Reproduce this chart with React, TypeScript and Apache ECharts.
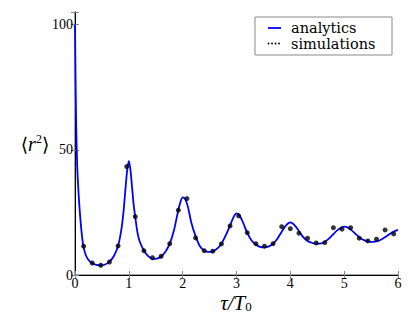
import React, { useEffect, useRef } from "react";
import * as echarts from "echarts";

// analytic curve: tau/T0 and <r^2>
const analyticTau = [
  0, 0.02, 0.04, 0.06, 0.08, 0.105, 0.13, 0.155, 0.2, 0.25, 0.32, 0.4, 0.48, 0.56, 0.64, 0.72, 0.8,
  0.86, 0.9, 0.94, 0.97, 1.0, 1.03, 1.06, 1.09, 1.12, 1.16, 1.2, 1.28, 1.36, 1.44, 1.52, 1.6, 1.68,
  1.76, 1.84, 1.9, 1.95, 2.0, 2.05, 2.1, 2.16, 2.24, 2.32, 2.4, 2.48, 2.56, 2.64, 2.72, 2.8, 2.88,
  2.95, 3.0, 3.05, 3.12, 3.2, 3.28, 3.36, 3.44, 3.52, 3.6, 3.68, 3.76, 3.84, 3.92, 4.0, 4.06, 4.14,
  4.22, 4.3, 4.38, 4.46, 4.54, 4.62, 4.7, 4.78, 4.86, 4.94, 5.0, 5.06, 5.14, 5.22, 5.3, 5.38, 5.46,
  5.54, 5.62, 5.7, 5.78, 5.86, 5.94, 6.0,
];
const analyticR2 = [
  100, 62, 44, 35, 28, 21, 15.5, 11.5, 8, 6, 4.7, 4, 3.8, 4.2, 5.3, 7.5, 11.6,
  18, 25, 35, 42, 45.5, 42, 35, 28, 23, 17, 13.5, 9.8, 7.5, 6.4, 6.5, 7.4, 9.3,
  12.5, 18, 24, 28.5, 31, 30.2, 27, 21, 15.5, 11.5, 9.8, 9.2, 9.4, 10.5, 12.5, 15.8, 19.8,
  23.3, 24.6, 24, 21, 16.8, 13.8, 12.2, 11.2, 11.0, 11.4, 12.5, 14.5, 17.3, 19.8, 21, 20.3, 18.2,
  15.6, 13.9, 13, 12.5, 12.5, 13, 14.2, 15.9, 17.6, 18.9, 19.3, 19, 17.8, 16.2, 14.8, 13.8, 13.3,
  13.2, 13.5, 14.3, 15.4, 16.6, 17.5, 18,
];

// simulation points
const simTau = [
  0.16, 0.32, 0.48, 0.64, 0.8, 0.96, 1.12, 1.28, 1.44, 1.6, 1.76, 1.92, 2.08, 2.24, 2.4, 2.56,
  2.72, 2.88, 3.04, 3.2, 3.36, 3.52, 3.68, 3.84, 4.0, 4.16, 4.32, 4.48, 4.64, 4.8, 4.96, 5.12,
  5.28, 5.44, 5.6, 5.76, 5.92,
];
const simR2 = [
  11.5, 4.8, 3.9, 5.2, 11.6, 43.3, 23.3, 9.7, 6.9, 7.5, 12.5, 25.9, 30.5, 14.8, 9.7, 9.5,
  12.4, 19.6, 23.6, 16.9, 12.5, 11.5, 12.5, 19.3, 18.5, 16.7, 14.7, 12.8, 12.9, 18.9, 18.3, 18.9,
  14.7, 13.6, 14.3, 18, 16.4,
];

const xTicks = [0, 1, 2, 3, 4, 5, 6];
const yTicks = [0, 50, 100];

const SERIF = "Liberation Serif";

export default function App() {
  const ref = useRef<HTMLDivElement>(null);
  useEffect(() => {
    if (!ref.current) return;
    const chart = echarts.init(ref.current, null, { renderer: "svg" });
    const line = analyticTau.map((t, i) => [t, analyticR2[i]]);
    const sim = simTau.map((t, i) => [t, simR2[i]]);
    const tickLabel = { fontFamily: SERIF, fontSize: 14, color: "#000" };
    const legendText = {
      fontFamily: "DejaVu Serif",
      fontSize: 14.5,
      lineHeight: 14,
      fill: "#000",
      verticalAlign: "middle",
    };
    chart.setOption({
      animation: false,
      backgroundColor: "#fff",
      grid: { left: 75, right: 17, top: 12, bottom: 38, containLabel: false },
      xAxis: [
        {
          type: "value",
          min: 0,
          max: 6,
          interval: 1,
          position: "bottom",
          axisLine: { show: true, lineStyle: { color: "#888", width: 1.5 } },
          axisTick: { show: true, inside: true, length: 4, lineStyle: { color: "#888" } },
          axisLabel: {
            ...tickLabel,
            margin: 2,
            lineHeight: 12,
            formatter: (v: number) => (xTicks.includes(v) ? String(v) : ""),
          },
          splitLine: { show: false },
        },
        {
          type: "value",
          min: 0,
          max: 6,
          interval: 1,
          position: "top",
          axisLine: { show: true, lineStyle: { color: "#000", width: 1 } },
          axisTick: { show: true, inside: true, length: 4, lineStyle: { color: "#888" } },
          axisLabel: { show: false },
          splitLine: { show: false },
        },
      ],
      yAxis: [
        {
          type: "value",
          min: 0,
          max: 105,
          interval: 50,
          position: "left",
          axisLine: { show: true, lineStyle: { color: "#888", width: 1.5 } },
          axisTick: { show: true, inside: true, length: 4, lineStyle: { color: "#888" } },
          axisLabel: {
            ...tickLabel,
            margin: 2,
            formatter: (v: number) => (yTicks.includes(v) ? String(v) : ""),
          },
          splitLine: { show: false },
        },
        {
          type: "value",
          min: 0,
          max: 105,
          interval: 50,
          position: "right",
          axisLine: { show: true, lineStyle: { color: "#000", width: 1 } },
          axisTick: { show: true, inside: true, length: 4, lineStyle: { color: "#888" } },
          axisLabel: { show: false },
          splitLine: { show: false },
        },
      ],
      series: [
        {
          name: "analytics",
          type: "line",
          data: line,
          smooth: 0.3,
          showSymbol: false,
          lineStyle: { color: "#0000ff", width: 1.8 },
          z: 2,
        },
        {
          name: "simulations",
          type: "scatter",
          data: sim,
          symbol: "circle",
          symbolSize: 5,
          itemStyle: { color: "#000" },
          z: 3,
        },
      ],
      graphic: [
        {
          type: "rect",
          shape: { x: 255, y: 17, width: 137, height: 38 },
          style: { fill: "#fff", stroke: "#888", lineWidth: 1 },
          z: 10,
        },
        {
          type: "line",
          shape: { x1: 268, y1: 28, x2: 281, y2: 28 },
          style: { stroke: "#0000ff", lineWidth: 1.8 },
          z: 11,
        },
        ...[268.5, 272, 275.5, 279].map((cx) => ({
          type: "circle",
          shape: { cx, cy: 43.5, r: 0.9 },
          style: { fill: "#000" },
          z: 11,
        })),
        {
          type: "text",
          x: 291,
          y: 27.5,
          style: { text: "analytics", ...legendText },
          z: 11,
        },
        {
          type: "text",
          x: 291,
          y: 43.5,
          style: { text: "simulations", ...legendText },
          z: 11,
        },
        {
          type: "text",
          x: 236,
          y: 305,
          style: {
            text: "{i|τ/T}{s|0}",
            align: "center",
            verticalAlign: "middle",
            rich: {
              i: { fontFamily: SERIF, fontStyle: "italic", fontSize: 21, lineHeight: 16, fill: "#000", verticalAlign: "bottom" },
              s: { fontFamily: SERIF, fontSize: 13, lineHeight: 10, fill: "#000", padding: [6, 0, 0, 0], verticalAlign: "bottom" },
            },
          },
        },
        {
          type: "text",
          x: 35,
          y: 144,
          style: {
            text: "{b|⟨}{r|r}{s|2}{b|⟩}",
            align: "center",
            verticalAlign: "middle",
            rich: {
              b: { fontFamily: "DejaVu Serif", fontSize: 19, fill: "#000" },
              r: { fontFamily: SERIF, fontStyle: "italic", fontSize: 20, fill: "#000" },
              s: { fontFamily: SERIF, fontSize: 12, fill: "#000", padding: [0, 0, 10, 0] },
            },
          },
        },
      ],
    });
    return () => chart.dispose();
  }, []);
  return <div ref={ref} style={{ width: 415, height: 313, position: "absolute", left: 0, top: 0 }} />;
}
